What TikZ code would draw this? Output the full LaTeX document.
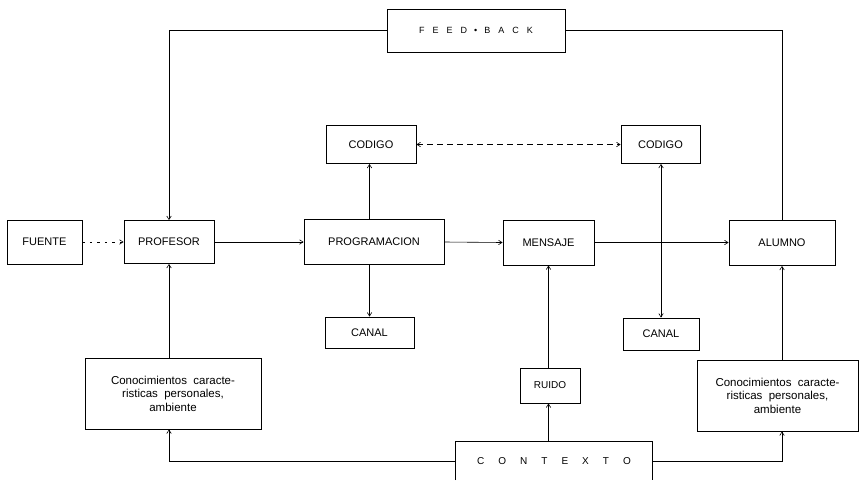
\documentclass[tikz,border=0pt]{standalone}
\usepackage{fontspec}
\setmainfont{Liberation Sans}
\usetikzlibrary{arrows.meta}
\begin{document}
\begin{tikzpicture}[x=1pt,y=-1pt,
  box/.style={draw, line width=0.9pt, rectangle, inner sep=0pt, align=center,
    font=\fontsize{11}{13}\selectfont},
  note/.style={box, font=\fontsize{11.5}{13.5}\selectfont},
  conn/.style={line width=0.6pt},
  arr/.style={conn, -{Straight Barb[length=3.5pt,width=4.5pt]}},
  dblarr/.style={conn, {Straight Barb[length=3.5pt,width=4.5pt]}-{Straight Barb[length=3.5pt,width=4.5pt]}},
  dotarr/.style={arr, dash pattern=on 2.5pt off 5pt},
  dasharr/.style={dblarr, dash pattern=on 6pt off 4pt}]
\useasboundingbox (0,0) rectangle (860,480);

% boxes
\node[box, minimum width=178pt, minimum height=43pt, font=\fontsize{9}{11}\selectfont] (fb) at (476,30.5)
  {F\hspace{8pt}E\hspace{8pt}E\hspace{8pt}D\hspace{7pt}\textbullet\hspace{7pt}B\hspace{8pt}A\hspace{8pt}C\hspace{8pt}K};
\node[box, minimum width=75pt, minimum height=44pt] (fuente) at (44.5,242) {FUENTE};
\node[box, minimum width=90pt, minimum height=43pt] (profesor) at (169,242) {PROFESOR};
\node[box, minimum width=140pt, minimum height=45pt] (prog) at (374,242) {PROGRAMACION};
\node[box, minimum width=91pt, minimum height=45pt] (mensaje) at (548.5,242.5) {MENSAJE};
\node[box, minimum width=106pt, minimum height=45pt] (alumno) at (782,243) {ALUMNO};
\node[box, minimum width=90pt, minimum height=38pt] (cod1) at (371,144.5) {CODIGO};
\node[box, minimum width=79pt, minimum height=38pt] (cod2) at (660.5,144.5) {CODIGO};
\node[box, minimum width=89pt, minimum height=31pt] (can1) at (369.5,332.5) {CANAL};
\node[box, minimum width=76pt, minimum height=32pt] (can2) at (661,334) {CANAL};
\node[box, minimum width=60pt, minimum height=35pt, font=\fontsize{10}{12}\selectfont] (ruido) at (550,385.5) {RUIDO};
\node[note, minimum width=176pt, minimum height=71pt] (conL) at (173,393.5)
  {Conocimientos\ \ caracte-\\risticas\ \ personales,\\ambiente};
\node[note, minimum width=161pt, minimum height=71pt] (conR) at (777.5,395.5)
  {Conocimientos\ \ caracte-\\risticas\ \ personales,\\ambiente};
% context box runs off the lower edge: three sides only
\node[inner sep=0pt, minimum width=196pt, minimum height=38pt, font=\fontsize{10}{12}\selectfont] (ctx) at (554,461)
  {C\hspace{14pt}O\hspace{14pt}N\hspace{14pt}T\hspace{14pt}E\hspace{14pt}X\hspace{14pt}T\hspace{14pt}O};
\draw[line width=0.9pt] (ctx.south west) -- (ctx.north west) -- (ctx.north east) -- (ctx.south east);

% main chain
\draw[dotarr] (fuente.east) -- (profesor.west);
\draw[arr] (profesor.east) -- (prog.west);
\draw[arr] (prog.east) -- (mensaje.west);
\draw[arr] (mensaje.east) -- (alumno.west |- mensaje.east);

% code and channel
\draw[arr] (prog.north -| can1) -- (cod1.south -| can1);
\draw[arr] (prog.south -| can1) -- (can1.north);
\draw[dasharr] (cod1.east) -- (cod2.west);
\draw[dblarr] (cod2.south -| can2) -- (can2.north);

% feedback loop
\draw[conn] (alumno.north) |- (fb.east);
\draw[arr] (fb.west) -| (profesor.north);

% context and noise
\draw[arr] (ctx.west) -| (conL.south -| profesor);
\draw[arr] (ctx.east) -| (conR.south -| alumno);
\draw[arr] (conL.north -| profesor) -- (profesor.south);
\draw[arr] (conR.north -| alumno) -- (alumno.south);
\draw[arr] (ctx.north -| mensaje) -- (ruido.south -| mensaje);
\draw[arr] (ruido.north -| mensaje) -- (mensaje.south);
\end{tikzpicture}
\end{document}
